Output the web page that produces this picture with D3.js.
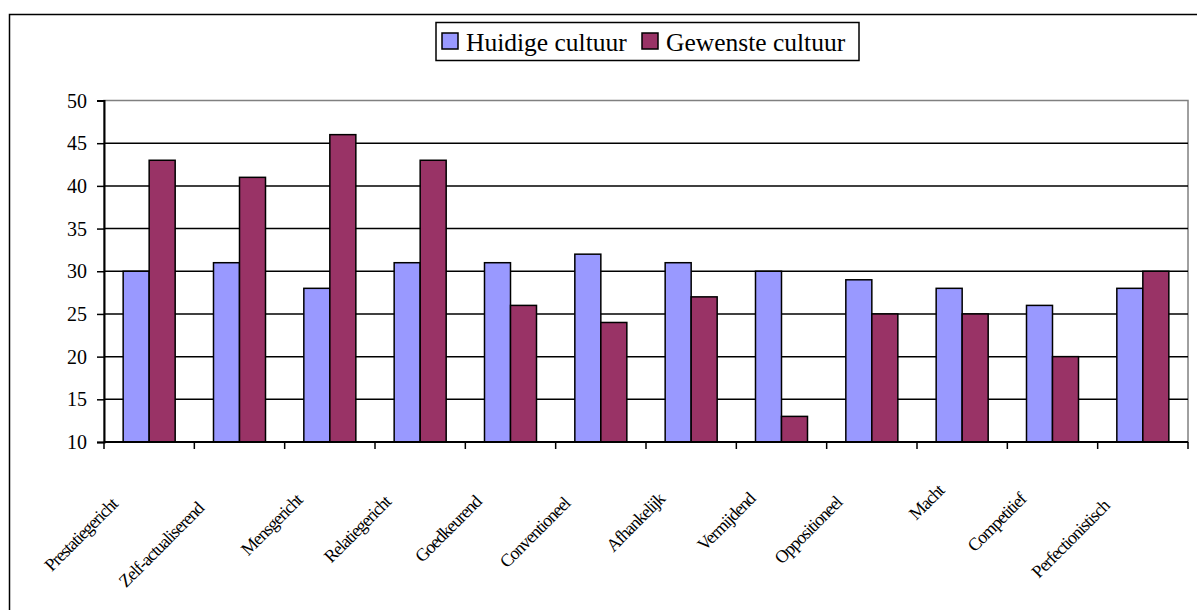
<!DOCTYPE html>
<html>
<head>
<meta charset="utf-8">
<script src="https://cdn.jsdelivr.net/npm/d3@7/dist/d3.min.js"></script>
</head>
<body style="margin:0">
<svg id="chart" width="1197" height="610" font-family="Liberation Serif"></svg>
<script>
// Culture profile: current vs. desired scores per style
const categories = [
  "Prestatiegericht", "Zelf-actualiserend", "Mensgericht", "Relatiegericht",
  "Goedkeurend", "Conventioneel", "Afhankelijk", "Vermijdend",
  "Oppositioneel", "Macht", "Competitief", "Perfectionistisch"
];
const seriesNames = ["Huidige cultuur", "Gewenste cultuur"];
const huidige  = [30, 31, 28, 31, 31, 32, 31, 30, 29, 28, 26, 28];
const gewenste = [43, 41, 46, 43, 26, 24, 27, 13, 25, 25, 20, 30];
const yTicks = [10, 15, 20, 25, 30, 35, 40, 45, 50];
const colors = ["#9999FF", "#993366"];

const serif = '"Liberation Serif"';
const svg = d3.select("#chart");

// chart frame
svg.append("rect")
  .attr("x", 9.5).attr("y", 14.5)
  .attr("width", 1300).attr("height", 700)
  .attr("fill", "#fff").attr("stroke", "#000").attr("stroke-width", 1.5);

const plot = { left: 104, right: 1188, top: 100.5, bottom: 442 };

const x0 = d3.scaleBand().domain(categories).range([plot.left, plot.right]).padding(0);
const x1 = d3.scaleBand().domain(seriesNames).range([0, x0.bandwidth()])
  .paddingInner(0).paddingOuter(0.737);
const y = d3.scaleLinear().domain([10, 50]).range([plot.bottom, plot.top]);

// plot area border (grey)
svg.append("rect")
  .attr("x", plot.left).attr("y", plot.top)
  .attr("width", plot.right - plot.left).attr("height", plot.bottom - plot.top)
  .attr("fill", "#fff").attr("stroke", "#808080").attr("stroke-width", 1.5);

// horizontal gridlines
svg.append("g").selectAll("line")
  .data(yTicks.filter(t => t > 10 && t < 50))
  .join("line")
  .attr("x1", plot.left).attr("x2", plot.right)
  .attr("y1", d => y(d)).attr("y2", d => y(d))
  .attr("stroke", "#000").attr("stroke-width", 1.5);

// bars
const rows = categories.map((c, i) => ({ cat: c, values: [huidige[i], gewenste[i]] }));
svg.append("g").selectAll("g")
  .data(rows)
  .join("g")
  .attr("transform", d => `translate(${x0(d.cat)},0)`)
  .selectAll("rect")
  .data(d => d.values.map((v, k) => ({ name: seriesNames[k], value: v, k })))
  .join("rect")
  .attr("x", d => x1(d.name))
  .attr("width", x1.bandwidth())
  .attr("y", d => y(d.value))
  .attr("height", d => y(10) - y(d.value))
  .attr("fill", d => colors[d.k])
  .attr("stroke", "#000").attr("stroke-width", 1.5);

// y axis: ticks and domain from d3.axisLeft, labels drawn as plain text
const yAxis = d3.axisLeft(y).tickValues(yTicks).tickSize(7).tickFormat("");
const gy = svg.append("g").attr("transform", `translate(${plot.left},0)`).call(yAxis);
gy.attr("font-family", null).attr("font-size", null);
gy.select(".domain").attr("stroke", "#000").attr("stroke-width", 2);
gy.selectAll(".tick line").attr("stroke", "#000").attr("stroke-width", 1.5);
svg.selectAll("text.ylab")
  .data(yTicks)
  .join("text")
  .attr("class", "ylab")
  .attr("x", plot.left - 17)
  .attr("y", d => y(d))
  .attr("dy", "0.35em")
  .attr("text-anchor", "end")
  .attr("font-size", 20)
  .style("font-family", serif)
  .text(d => d);

// x axis line and boundary ticks
svg.append("line")
  .attr("x1", plot.left).attr("x2", plot.right)
  .attr("y1", plot.bottom).attr("y2", plot.bottom)
  .attr("stroke", "#000").attr("stroke-width", 2);
const boundaries = categories.map(c => x0(c)).concat([plot.right]);
svg.append("g").selectAll("line")
  .data(boundaries)
  .join("line")
  .attr("x1", d => d).attr("x2", d => d)
  .attr("y1", plot.bottom).attr("y2", plot.bottom + 7)
  .attr("stroke", "#000").attr("stroke-width", 1.5);

// rotated category labels (tight, condensed setting)
const labels = svg.selectAll("text.xlab")
  .data(categories)
  .join("text")
  .attr("class", "xlab")
  .attr("font-size", 18)
  .attr("letter-spacing", -1.1)
  .style("font-family", serif)
  .attr("text-anchor", "end")
  .attr("dy", "0.35em")
  .text(d => d);
labels.each(function (d) {
  const L = this.getComputedTextLength();
  const cx = x0(d) + x0.bandwidth() / 2;
  const ey = 477.5 + 0.25 * L;
  const ex = cx + 466 - ey;
  d3.select(this)
    .attr("x", ex).attr("y", ey)
    .attr("transform", `rotate(-45,${ex},${ey})`);
});

// legend
svg.append("rect")
  .attr("x", 436).attr("y", 22.5).attr("width", 423).attr("height", 38)
  .attr("fill", "#fff").attr("stroke", "#000").attr("stroke-width", 1.5);
const legendX = [442, 642];
svg.selectAll("rect.swatch")
  .data(seriesNames)
  .join("rect")
  .attr("class", "swatch")
  .attr("x", (d, i) => legendX[i]).attr("y", 33).attr("width", 16).attr("height", 16)
  .attr("fill", (d, i) => colors[i])
  .attr("stroke", "#000").attr("stroke-width", 1.5);
svg.selectAll("text.leg")
  .data(seriesNames)
  .join("text")
  .attr("class", "leg")
  .attr("x", (d, i) => legendX[i] + 24).attr("y", 51)
  .attr("font-size", 25.5)
  .style("font-family", serif)
  .text(d => d);
</script>
</body>
</html>
